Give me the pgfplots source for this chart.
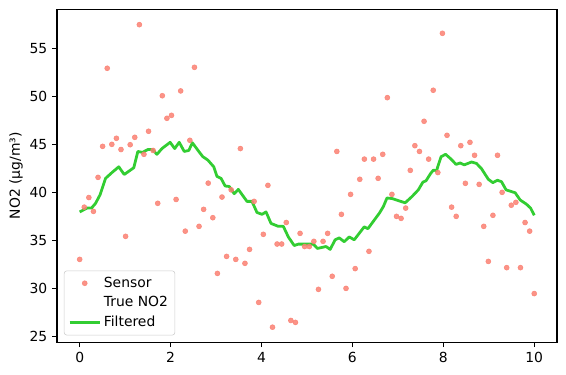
\documentclass[border=0pt]{standalone}
\usepackage{pgfplots}
\pgfplotsset{compat=1.18}
\usepackage{fontspec}
\setmainfont{DejaVu Sans}
\definecolor{salmonc}{HTML}{FA8072}
\definecolor{limeg}{HTML}{32CD32}
\begin{document}
\begin{tikzpicture}
\begin{axis}[
  scale only axis, width=360pt, height=239.8pt,
  at={(0pt,0pt)}, anchor=south west,
  xmin=-0.5, xmax=10.5, ymin=24.42, ymax=59.1,
  xtick={0,2,4,6,8,10}, ytick={25,30,35,40,45,50,55},
  xtick pos=bottom, ytick pos=left,
  tick align=outside, major tick length=3.5pt,
  tick style={black, line width=0.8pt},
  axis line style={line width=0.8pt},
  every tick label/.append style={font=\fontsize{10}{12}\selectfont},
  /pgf/number format/assume math mode=true,
  ylabel={NO2 (µg/m³)},
  ylabel style={font=\fontsize{10}{12}\selectfont, yshift=-2pt},
  legend cell align=left,
  legend image code/.code={\draw[mark repeat=2,mark phase=2,#1] plot coordinates {(0pt,0pt) (10.8pt,0pt) (21.6pt,0pt)};},
  legend style={at={(axis description cs:0.0139,0.0208)}, anchor=south west,
    draw=black!20, rounded corners=2pt, fill=white, fill opacity=0.8, text opacity=1,
    font=\fontsize{10}{12}\selectfont, row sep=1.2pt, inner xsep=3pt, inner ysep=2.5pt},
]
\addplot[only marks, mark=*, mark size=1.8pt, color=salmonc, fill opacity=0.85, draw opacity=0.85] coordinates {
(0.000,33.06)(0.101,38.5)(0.202,39.5)(0.303,38.06)(0.404,41.6)(0.505,44.83)(0.606,52.96)(0.707,45.04)(0.808,45.67)(0.909,44.5)
(1.010,35.46)(1.111,45.0)(1.212,45.77)(1.313,57.5)(1.414,44.0)(1.515,46.4)(1.616,44.4)(1.717,38.9)(1.818,50.1)(1.919,47.75)
(2.020,48.06)(2.121,39.3)(2.222,50.6)(2.323,36.0)(2.424,45.46)(2.525,53.06)(2.626,36.5)(2.727,38.27)(2.828,41.0)(2.929,37.4)
(3.030,31.6)(3.131,39.55)(3.232,33.37)(3.333,40.3)(3.434,33.06)(3.535,44.6)(3.636,32.65)(3.737,34.1)(3.838,39.1)(3.939,28.58)
(4.040,35.67)(4.141,40.77)(4.242,26.0)(4.343,34.66)(4.444,34.66)(4.545,36.9)(4.646,26.7)(4.747,26.5)(4.848,35.77)(4.949,34.4)
(5.051,34.4)(5.152,34.94)(5.253,29.94)(5.354,34.94)(5.455,35.77)(5.556,31.3)(5.657,44.3)(5.758,37.75)(5.859,30.04)(5.960,39.83)
(6.061,32.1)(6.162,41.4)(6.263,43.5)(6.364,33.9)(6.465,43.5)(6.566,41.5)(6.667,44.0)(6.768,49.9)(6.869,39.83)(6.970,37.54)
(7.071,37.33)(7.172,38.4)(7.273,42.33)(7.374,44.9)(7.475,44.3)(7.576,47.44)(7.677,43.5)(7.778,50.67)(7.879,42.1)(7.980,56.6)
(8.081,45.98)(8.182,38.5)(8.283,37.54)(8.384,44.9)(8.485,40.98)(8.586,45.25)(8.687,43.9)(8.788,40.87)(8.889,36.5)(8.990,32.85)
(9.091,37.65)(9.192,43.9)(9.293,40.04)(9.394,32.2)(9.495,38.7)(9.596,39.0)(9.697,32.2)(9.798,36.9)(9.899,36.0)(10.000,29.5)
};
\addlegendentry{Sensor}
\addplot[white, line width=1.5pt, smooth, no marks] coordinates {
(0,40.0)(0.5,42.3)(1.0,43.8)(1.5,44.3)(2.0,43.8)(2.5,42.3)(3.0,40.2)(3.5,38.0)(4.0,36.2)(4.5,35.2)
(5.0,35.2)(5.5,36.2)(6.0,38.0)(6.5,40.2)(7.0,42.2)(7.5,43.5)(8.0,43.5)(8.5,42.3)(9.0,40.2)(9.5,38.0)(10.0,35.8)
};
\addlegendentry{True NO2}
\addplot[limeg, line width=2pt, no marks, line join=round] coordinates {
(0,38.0)(0.16,38.4)(0.26,38.4)(0.35,38.9)(0.45,39.8)(0.57,41.5)(0.71,42.1)(0.86,42.7)(0.98,41.9)(1.19,42.6)
(1.28,44.3)(1.38,44.2)(1.50,44.5)(1.60,44.5)(1.70,44.0)(1.81,44.6)(1.99,45.25)(2.09,44.6)(2.19,45.25)(2.30,44.3)
(2.40,44.4)(2.48,45.2)(2.62,44.3)(2.71,43.75)(2.82,43.4)(2.95,42.7)(3.02,41.7)(3.11,41.5)(3.20,40.7)(3.29,40.65)
(3.40,39.9)(3.49,40.35)(3.68,39.1)(3.79,39.1)(3.90,37.95)(4.01,37.75)(4.10,38.0)(4.21,36.8)(4.37,36.5)(4.48,36.5)
(4.59,35.4)(4.72,34.5)(4.81,34.65)(5.14,34.65)(5.23,34.2)(5.42,34.4)(5.51,34.1)(5.62,35.1)(5.71,35.3)(5.82,34.9)
(5.93,35.4)(6.04,35.1)(6.26,36.45)(6.34,36.25)(6.48,37.15)(6.59,37.85)(6.68,38.55)(6.76,39.45)(6.87,39.4)(7.16,38.95)
(7.31,39.6)(7.45,40.3)(7.55,41.1)(7.62,41.25)(7.72,42.0)(7.78,42.35)(7.85,42.3)(7.95,43.75)(8.05,44.0)(8.17,43.5)
(8.28,42.95)(8.37,43.1)(8.46,42.9)(8.62,43.2)(8.73,43.05)(8.84,42.5)(8.99,41.4)(9.09,41.05)(9.19,41.3)(9.28,41.15)
(9.38,40.3)(9.58,40.0)(9.69,39.25)(9.83,38.8)(9.92,38.4)(10.0,37.65)
};
\addlegendentry{Filtered}
\end{axis}
\path (-41pt,-22.8pt) rectangle (366.5pt,246.5pt);
\end{tikzpicture}
\end{document}
